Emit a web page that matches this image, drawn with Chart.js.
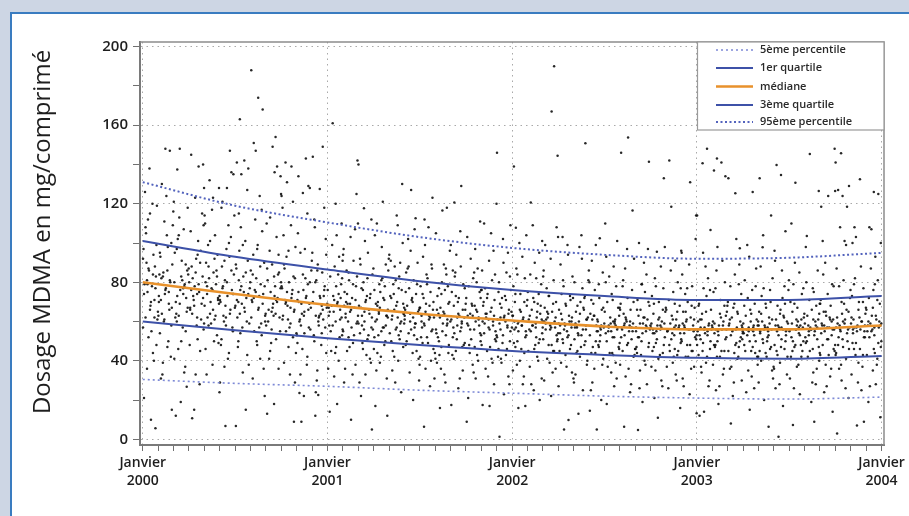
<!DOCTYPE html>
<html>
<head>
<meta charset="utf-8">
<script src="https://cdn.jsdelivr.net/npm/chart.js@4"></script>
<style>
    html, body { margin: 0; padding: 0; }
    body { width: 909px; height: 516px; background: #cdd6e4; position: relative; overflow: hidden; }
    #panel { position: absolute; left: 10px; top: 12px; width: 920px; height: 520px; background: #fff;
             border-left: 2px solid #3a7cc0; border-top: 2px solid #3a7cc0; }
    #chart { position: absolute; left: 0; top: 0; }
</style>
</head>
<body>
<div id="panel"></div>
<canvas id="chart" width="909" height="516"></canvas>
<script>
// x is in months since Janvier 2000
const yearLabels = ['2000', '2001', '2002', '2003', '2004'];
const curveMonths = [0, 6, 12, 18, 24, 30, 36, 42, 48];
const p5 = [30.5, 28.5, 27, 25, 23.5, 22, 21, 20.5, 21.5];
const q1 = [60, 55.5, 51.5, 48, 45, 43, 41.5, 41, 42.5];
const median = [80, 74, 68.5, 64, 60.5, 57.5, 56, 56, 58];
const q3 = [101, 93, 86.5, 80.5, 76, 73, 71, 71, 73];
const p95 = [131, 119, 110.5, 103, 97.5, 94, 92, 92.5, 95];

// day of the month for the n-th sample of a month
const dayOfMonth = [17, 3, 26, 9, 21, 12, 1, 28, 6, 15, 24, 10, 19, 4, 27, 13, 8, 22, 2, 16, 25, 7, 11, 29, 5, 20, 14, 23, 18, 30, 31];

// tablet dosages (mg), one list per month
const dosesByMonth = [
    [10, 21, 5.6, 36, 44, 52, 57, 48, 62, 66, 71, 75, 78, 79, 83, 86, 90, 94, 97, 68, 88, 105, 112, 119, 126, 120, 138, 40, 55, 61, 65, 70, 74, 77, 81, 84, 87, 92, 99, 108, 115, 62, 79],
    [15, 31, 148, 147, 39, 47, 54, 58, 61, 64, 69, 73, 77, 80, 82, 85, 89, 93, 98, 74, 66, 104, 109, 116, 124, 84, 42, 33, 50, 60, 63, 67, 71, 76, 81, 83, 86, 95, 100, 111, 130, 75, 70],
    [26.8, 148, 137.5, 34, 41, 50, 55, 60, 63, 67, 70, 74, 76, 79, 81, 84, 87, 91, 95, 72, 102, 107, 113, 121, 86, 64, 19, 37, 46, 57, 62, 65, 69, 73, 78, 80, 83, 89, 97, 104, 118, 12, 77],
    [10.7, 15, 140, 145, 139, 33, 45, 51, 56, 59, 62, 66, 69, 73, 75, 78, 80, 83, 88, 92, 96, 71, 101, 106, 115, 123, 82, 28, 48, 58, 61, 64, 68, 72, 76, 79, 85, 90, 94, 109, 128, 74, 67],
    [123, 128, 24, 38, 46, 53, 58, 61, 64, 68, 71, 74, 77, 79, 82, 85, 90, 94, 70, 99, 104, 110, 117, 86, 62, 132, 49, 33, 50, 59, 63, 66, 69, 73, 76, 80, 83, 88, 92, 101, 114, 72, 78],
    [147, 6.8, 29, 135, 121, 128, 136, 37, 44, 51, 55, 58, 63, 66, 70, 73, 76, 78, 81, 84, 88, 93, 97, 103, 109, 114, 67, 41, 48, 57, 60, 64, 68, 71, 74, 77, 80, 86, 91, 100, 118, 74, 62],
    [163, 142, 141, 138, 135, 115, 15, 6.8, 34, 43, 50, 54, 59, 62, 65, 69, 72, 75, 77, 80, 83, 87, 91, 96, 101, 108, 68, 38, 47, 57, 60, 64, 67, 71, 74, 78, 81, 85, 89, 99, 127, 70, 76],
    [188, 174, 168, 151, 147, 22, 31, 41, 48, 53, 57, 60, 64, 67, 71, 74, 76, 79, 82, 86, 90, 94, 99, 106, 112, 124, 70, 36, 50, 55, 59, 62, 66, 69, 72, 75, 78, 84, 88, 97, 117, 73, 63],
    [154, 149, 139, 136, 134, 125, 18, 13, 36, 45, 51, 56, 58, 62, 66, 69, 72, 75, 78, 81, 85, 89, 96, 103, 110, 63, 84, 41, 49, 55, 60, 64, 67, 70, 73, 77, 80, 83, 87, 94, 113, 71, 65],
    [118, 9, 141, 139, 131, 124, 29, 39, 47, 52, 55, 59, 63, 66, 68, 71, 74, 77, 80, 83, 87, 93, 98, 104, 109, 61, 76, 33, 44, 54, 57, 61, 65, 69, 72, 75, 78, 82, 89, 96, 121, 70, 67],
    [23.6, 22, 129, 9, 143, 134, 128, 125.5, 33, 42, 49, 54, 57, 61, 64, 67, 70, 73, 76, 79, 82, 86, 91, 97, 105, 69, 58, 38, 46, 53, 56, 60, 63, 66, 69, 72, 75, 80, 84, 95, 115, 71, 65],
    [22.6, 24, 149, 144, 127.5, 118, 12, 35, 44, 50, 54, 58, 61, 64, 67, 69, 72, 75, 78, 81, 85, 89, 95, 102, 108, 63, 73, 30, 48, 53, 57, 60, 63, 66, 70, 73, 76, 80, 86, 94, 112, 68, 62],
    [161, 110, 14, 18, 32, 40, 47, 53, 56, 60, 63, 66, 68, 70, 73, 76, 79, 83, 88, 93, 99, 104, 58, 72, 65, 45, 84, 36, 44, 52, 55, 58, 62, 65, 69, 71, 74, 78, 82, 91, 120, 67, 61],
    [142, 110, 10, 29, 38, 45, 49, 52, 55, 59, 62, 65, 67, 69, 72, 75, 78, 81, 86, 91, 97, 103, 107, 70, 60, 83, 36, 33, 47, 53, 57, 60, 63, 66, 68, 71, 74, 79, 85, 94, 125, 64, 69],
    [117.7, 140, 5, 22, 33, 41, 46, 51, 54, 57, 60, 63, 66, 68, 71, 74, 77, 80, 84, 89, 95, 101, 64, 73, 56, 87, 43, 29, 39, 49, 53, 56, 59, 62, 67, 70, 72, 76, 82, 92, 112, 65, 58],
    [121, 17, 31, 39, 44, 48, 52, 55, 58, 61, 64, 66, 69, 72, 75, 78, 82, 86, 92, 98, 104, 63, 70, 57, 79, 46, 12, 35, 42, 50, 53, 57, 60, 63, 67, 68, 71, 76, 81, 89, 110, 65, 62],
    [114, 24, 35, 42, 47, 50, 53, 56, 59, 62, 64, 67, 70, 73, 76, 79, 83, 88, 94, 100, 61, 68, 55, 74, 40, 91, 130, 29, 45, 51, 54, 57, 60, 63, 66, 69, 72, 77, 81, 90, 109, 64, 59],
    [127, 112.6, 20, 30, 38, 44, 48, 51, 54, 57, 60, 63, 65, 68, 71, 74, 77, 81, 85, 90, 96, 102, 59, 66, 72, 45, 87, 34, 41, 50, 53, 56, 59, 62, 66, 67, 70, 75, 79, 88, 107, 64, 61],
    [123, 6.4, 27, 36, 42, 46, 49, 52, 55, 58, 61, 63, 66, 69, 72, 75, 78, 82, 87, 93, 99, 62, 57, 68, 84, 40, 108, 31, 44, 49, 52, 56, 59, 62, 65, 67, 70, 74, 79, 89, 112, 63, 60],
    [116.5, 118, 16, 33, 39, 44, 47, 50, 53, 56, 59, 61, 64, 67, 70, 73, 76, 80, 84, 89, 96, 60, 65, 54, 78, 43, 29, 36, 41, 48, 52, 55, 58, 62, 64, 66, 69, 74, 77, 87, 105, 63, 59],
    [120.7, 129, 17.5, 26, 35, 41, 45, 49, 52, 55, 58, 60, 63, 66, 69, 72, 75, 79, 83, 88, 94, 99, 62, 57, 70, 47, 85, 31, 43, 48, 51, 54, 57, 61, 64, 66, 68, 73, 77, 86, 106, 62, 59],
    [111, 21, 31, 38, 43, 47, 50, 53, 56, 59, 61, 64, 66, 69, 72, 75, 78, 82, 87, 92, 97, 63, 58, 68, 44, 80, 9, 34, 40, 48, 51, 54, 58, 60, 63, 65, 68, 72, 76, 85, 103, 62, 56],
    [120, 17, 17.5, 28, 36, 41, 45, 48, 51, 54, 57, 60, 62, 65, 68, 71, 74, 77, 81, 86, 91, 96, 59, 64, 55, 70, 105, 32, 39, 47, 50, 53, 56, 60, 63, 64, 67, 72, 76, 84, 110, 61, 58],
    [146, 109, 1.3, 23, 32, 39, 43, 46, 50, 53, 56, 58, 61, 63, 66, 69, 72, 76, 80, 85, 90, 95, 60, 65, 57, 73, 42, 28, 41, 46, 49, 52, 55, 59, 62, 64, 67, 71, 75, 83, 102, 62, 57],
    [139, 17, 16, 107.8, 28, 35, 40, 44, 47, 50, 53, 56, 58, 60, 62, 65, 68, 71, 74, 78, 82, 87, 93, 59, 63, 55, 70, 100, 32, 38, 46, 49, 52, 55, 57, 61, 63, 66, 70, 74, 84, 104, 60, 58],
    [20, 120.7, 109, 31, 37, 42, 46, 49, 52, 54, 57, 59, 61, 64, 66, 69, 72, 75, 79, 84, 90, 95, 58, 62, 56, 68, 25, 28, 40, 45, 48, 51, 55, 58, 61, 63, 65, 70, 74, 82, 101, 60, 57],
    [190, 167, 144.5, 103, 22, 30, 36, 41, 45, 48, 51, 53, 56, 58, 60, 62, 65, 67, 70, 73, 77, 81, 86, 92, 57, 61, 64, 50, 99, 34, 39, 45, 48, 51, 54, 57, 60, 62, 65, 69, 73, 83, 108, 59, 56],
    [103, 9.8, 5, 27, 34, 39, 43, 46, 49, 52, 54, 57, 59, 61, 63, 66, 68, 71, 74, 78, 83, 89, 94, 58, 60, 55, 72, 31, 37, 45, 48, 51, 53, 56, 59, 62, 64, 69, 73, 81, 99, 58, 60],
    [150.8, 13, 25, 33, 38, 42, 45, 48, 51, 53, 56, 58, 60, 62, 65, 67, 70, 73, 77, 81, 86, 92, 57, 61, 54, 66, 98, 29, 40, 44, 47, 50, 53, 56, 59, 61, 64, 68, 72, 80, 104, 58, 57],
    [102.4, 14.6, 5, 20, 29, 36, 41, 44, 47, 50, 53, 55, 57, 59, 61, 64, 66, 69, 72, 76, 80, 85, 91, 58, 56, 63, 48, 25, 38, 44, 47, 50, 53, 55, 58, 61, 63, 67, 71, 79, 99, 57, 60],
    [18, 27, 34, 39, 43, 46, 49, 52, 54, 56, 58, 60, 62, 65, 67, 70, 74, 78, 83, 88, 93, 57, 59, 55, 61, 110, 44, 31, 37, 44, 47, 50, 52, 55, 58, 60, 63, 67, 71, 80, 101, 57, 59],
    [153.8, 146, 116.5, 6.4, 24, 32, 38, 42, 45, 48, 51, 53, 55, 57, 59, 61, 64, 66, 69, 72, 76, 81, 87, 92, 56, 58, 60, 28, 36, 43, 46, 49, 52, 55, 58, 60, 62, 66, 70, 78, 97, 57, 59],
    [141.4, 4.7, 19, 28, 35, 40, 44, 47, 50, 52, 55, 57, 59, 61, 63, 66, 68, 71, 75, 79, 84, 90, 56, 58, 62, 47, 97, 26, 38, 43, 46, 49, 52, 54, 57, 59, 62, 66, 70, 79, 100, 58, 55],
    [133, 95.6, 21, 30, 37, 41, 44, 47, 49, 52, 54, 56, 58, 60, 62, 65, 67, 70, 73, 77, 82, 88, 55, 57, 59, 64, 11, 27, 35, 43, 45, 48, 51, 54, 57, 59, 61, 66, 69, 78, 98, 56, 58],
    [142, 118.5, 16, 26, 33, 39, 43, 46, 49, 51, 53, 55, 57, 59, 61, 63, 66, 68, 71, 75, 80, 86, 91, 56, 58, 54, 45, 30, 37, 42, 45, 48, 51, 54, 56, 58, 61, 65, 69, 77, 96, 57, 55],
    [131, 114, 13.3, 23, 31, 37, 42, 45, 48, 50, 52, 54, 56, 58, 60, 62, 65, 67, 70, 74, 78, 84, 89, 55, 57, 61, 102, 27, 36, 42, 45, 48, 51, 53, 56, 59, 61, 65, 68, 77, 95, 56, 58],
    [148, 140.6, 114, 106.6, 12, 14, 27, 34, 39, 43, 46, 49, 51, 53, 55, 57, 59, 61, 64, 66, 69, 73, 77, 82, 88, 56, 58, 54, 60, 30, 37, 42, 45, 48, 50, 53, 56, 58, 61, 65, 68, 76, 95, 57, 55],
    [143, 141, 137, 134, 18, 25, 33, 38, 42, 45, 48, 50, 52, 54, 56, 58, 60, 62, 65, 68, 71, 75, 80, 86, 91, 55, 57, 63, 47, 27, 36, 42, 45, 48, 51, 53, 56, 58, 60, 64, 68, 77, 98, 56, 59],
    [133, 125.3, 97.3, 8, 22, 30, 36, 41, 44, 47, 49, 51, 54, 56, 58, 60, 62, 64, 67, 70, 74, 78, 84, 89, 55, 57, 59, 52, 29, 37, 42, 45, 48, 50, 53, 56, 58, 61, 65, 69, 79, 102, 57, 55],
    [126, 15, 26, 32, 38, 42, 45, 48, 50, 53, 55, 57, 59, 61, 63, 66, 69, 72, 76, 81, 87, 93, 56, 58, 54, 60, 44, 24, 35, 42, 45, 47, 50, 53, 56, 58, 60, 64, 68, 78, 99, 57, 55],
    [133, 114, 97.8, 6.4, 20, 29, 35, 40, 44, 46, 49, 52, 54, 56, 58, 60, 62, 65, 67, 70, 73, 77, 82, 88, 55, 57, 59, 50, 31, 37, 42, 45, 47, 51, 53, 56, 58, 61, 64, 69, 76, 104, 57, 55],
    [139.7, 134.6, 106, 1.3, 17, 26, 33, 39, 43, 46, 48, 51, 53, 55, 57, 59, 61, 63, 66, 69, 72, 76, 81, 86, 91, 56, 58, 62, 28, 36, 42, 45, 47, 50, 53, 56, 58, 60, 64, 68, 78, 96, 57, 55],
    [130.7, 7.3, 23, 31, 37, 42, 45, 47, 50, 52, 54, 56, 58, 60, 62, 64, 67, 70, 74, 79, 85, 90, 55, 57, 59, 61, 48, 26, 38, 42, 45, 48, 50, 53, 56, 58, 61, 65, 69, 77, 110, 57, 56],
    [145.3, 126.5, 103.6, 9, 19, 28, 34, 40, 44, 46, 49, 51, 53, 55, 57, 59, 61, 63, 66, 68, 71, 75, 80, 86, 56, 58, 60, 52, 29, 36, 42, 45, 47, 50, 53, 56, 58, 61, 64, 69, 77, 98, 57, 55],
    [148, 126.5, 124, 118.5, 14, 24, 32, 38, 43, 46, 48, 51, 53, 55, 57, 59, 61, 63, 65, 68, 71, 74, 79, 84, 90, 56, 58, 62, 27, 36, 43, 45, 48, 51, 54, 56, 58, 61, 65, 69, 78, 101, 57, 60],
    [145.7, 141, 129, 127, 124, 118.5, 108, 101, 3, 21, 30, 36, 41, 44, 47, 50, 52, 55, 57, 59, 61, 64, 66, 69, 72, 76, 81, 87, 56, 58, 26, 38, 43, 46, 48, 51, 54, 56, 59, 62, 65, 70, 78, 99, 57, 60],
    [132.5, 100, 9, 7, 108, 25, 33, 39, 43, 46, 49, 52, 54, 56, 58, 60, 62, 64, 67, 70, 73, 77, 82, 88, 57, 59, 55, 61, 29, 37, 43, 46, 49, 52, 55, 57, 60, 62, 66, 70, 79, 103, 58, 56],
    [126, 125, 108, 107, 11.2, 19, 28, 35, 41, 44, 47, 50, 53, 55, 57, 59, 61, 63, 66, 69, 72, 76, 81, 87, 93, 58, 60, 56, 27, 38, 43, 46, 49, 52, 55, 58, 60, 63, 67, 71, 79, 100, 59, 57]
];

const FONT = "'Open Sans', 'Noto Sans', sans-serif";

const points = [];
dosesByMonth.forEach((list, m) => {
    list.forEach((v, i) => {
        const d = dayOfMonth[(i + m * 7) % dayOfMonth.length];
        points.push({ x: m + (d - 0.5) / 31, y: v });
    });
});

function curve(values) {
    return curveMonths.map((m, i) => ({ x: m, y: values[i] }));
}

const curveStyle = {
    type: 'line',
    pointRadius: 0,
    fill: false,
    cubicInterpolationMode: 'monotone'
};

// frame, rotated y title and boxed legend
const decorations = {
    id: 'decorations',
    beforeDatasetsDraw(chart) {
        const { ctx, chartArea: a } = chart;
        ctx.save();
        ctx.strokeStyle = '#8c8c8c';
        ctx.lineWidth = 1.5;
        ctx.beginPath();
        ctx.moveTo(a.left, a.top);
        ctx.lineTo(a.right, a.top);
        ctx.lineTo(a.right, a.bottom);
        ctx.stroke();
        ctx.restore();
    },
    afterDraw(chart) {
        const { ctx, chartArea: a } = chart;
        ctx.save();
        ctx.translate(43, 232);
        ctx.rotate(-Math.PI / 2);
        ctx.fillStyle = '#1e1e1e';
        ctx.font = '500 24px ' + FONT;
        ctx.textAlign = 'center';
        ctx.textBaseline = 'middle';
        ctx.fillText('Dosage MDMA en mg/comprimé', 0, 0);
        ctx.restore();

        const box = { left: 697.5, top: a.top, right: a.right, bottom: 130 };
        ctx.save();
        ctx.fillStyle = '#fff';
        ctx.fillRect(box.left, box.top, box.right - box.left, box.bottom - box.top);
        ctx.strokeStyle = '#9a9a9a';
        ctx.lineWidth = 1.2;
        ctx.strokeRect(box.left, box.top, box.right - box.left, box.bottom - box.top);
        const rows = [50, 68, 86.5, 105, 122];
        chart.data.datasets.slice(0, 5).forEach((ds, i) => {
            const y = rows[i];
            ctx.strokeStyle = ds.borderColor;
            ctx.lineWidth = ds.borderWidth;
            ctx.setLineDash(ds.borderDash || []);
            ctx.beginPath();
            ctx.moveTo(716, y);
            ctx.lineTo(753, y);
            ctx.stroke();
            ctx.setLineDash([]);
            ctx.fillStyle = '#2a2a2a';
            ctx.font = '600 11px ' + FONT;
            ctx.textBaseline = 'middle';
            ctx.fillText(ds.label, 760, y);
        });
        ctx.restore();
    }
};

new Chart(document.getElementById('chart'), {
    type: 'scatter',
    data: {
        datasets: [
            { ...curveStyle, label: '5ème percentile', data: curve(p5), borderColor: '#7d89d6', borderWidth: 1.6, borderDash: [2, 3] },
            { ...curveStyle, label: '1er quartile', data: curve(q1), borderColor: '#3d51a8', borderWidth: 2 },
            { ...curveStyle, label: 'médiane', data: curve(median), borderColor: '#e8912b', borderWidth: 2.6 },
            { ...curveStyle, label: '3ème quartile', data: curve(q3), borderColor: '#3d51a8', borderWidth: 2 },
            { ...curveStyle, label: '95ème percentile', data: curve(p95), borderColor: '#5363bd', borderWidth: 2, borderDash: [2, 2.5] },
            {
                label: 'comprimés',
                data: points,
                pointRadius: 1.25,
                pointBackgroundColor: 'rgba(15,15,15,0.9)',
                pointBorderWidth: 0
            }
        ]
    },
    options: {
        responsive: false,
        animation: false,
        devicePixelRatio: 1,
        layout: { padding: { left: 0, top: 42, right: 25, bottom: 0 } },
        plugins: {
            legend: { display: false },
            tooltip: { enabled: false }
        },
        scales: {
            x: {
                type: 'linear',
                min: -0.18,
                max: 48.16,
                afterBuildTicks: scale => {
                    scale.ticks = [];
                    for (let m = 0; m <= 48; m++) scale.ticks.push({ value: m });
                },
                afterFit: scale => {
                    scale.height = 71;
                    scale.paddingLeft = 0;
                    scale.paddingRight = 0;
                },
                grid: {
                    color: c => (c.tick && c.tick.value % 12 === 0) ? '#a9a9a9' : 'rgba(0,0,0,0)',
                    tickColor: '#707070',
                    tickLength: 6,
                    lineWidth: 1
                },
                border: { color: '#7a7a7a', width: 2, dash: [1.5, 4] },
                ticks: {
                    autoSkip: false,
                    maxRotation: 0,
                    padding: 3,
                    color: '#1e1e1e',
                    font: { family: FONT, size: 14, weight: '600', lineHeight: 1.3 },
                    callback: v => v % 12 === 0 ? ['Janvier', yearLabels[v / 12]] : ''
                }
            },
            y: {
                min: -2.9,
                max: 202.4,
                afterBuildTicks: scale => {
                    scale.ticks = [];
                    for (let v = 0; v <= 200; v += 20) scale.ticks.push({ value: v });
                },
                afterFit: scale => {
                    scale.width = 140;
                    scale.paddingTop = 0;
                    scale.paddingBottom = 0;
                },
                grid: {
                    color: c => (c.tick && c.tick.value % 40 === 0) ? '#a9a9a9' : 'rgba(0,0,0,0)',
                    tickColor: '#707070',
                    tickLength: 7,
                    lineWidth: 1
                },
                border: { color: '#7a7a7a', width: 2, dash: [1.5, 4] },
                ticks: {
                    padding: 5,
                    color: '#1e1e1e',
                    font: { family: FONT, size: 15, weight: '600' },
                    callback: v => v % 40 === 0 ? String(v) : ''
                }
            }
        }
    },
    plugins: [decorations]
});
</script>
</body>
</html>
